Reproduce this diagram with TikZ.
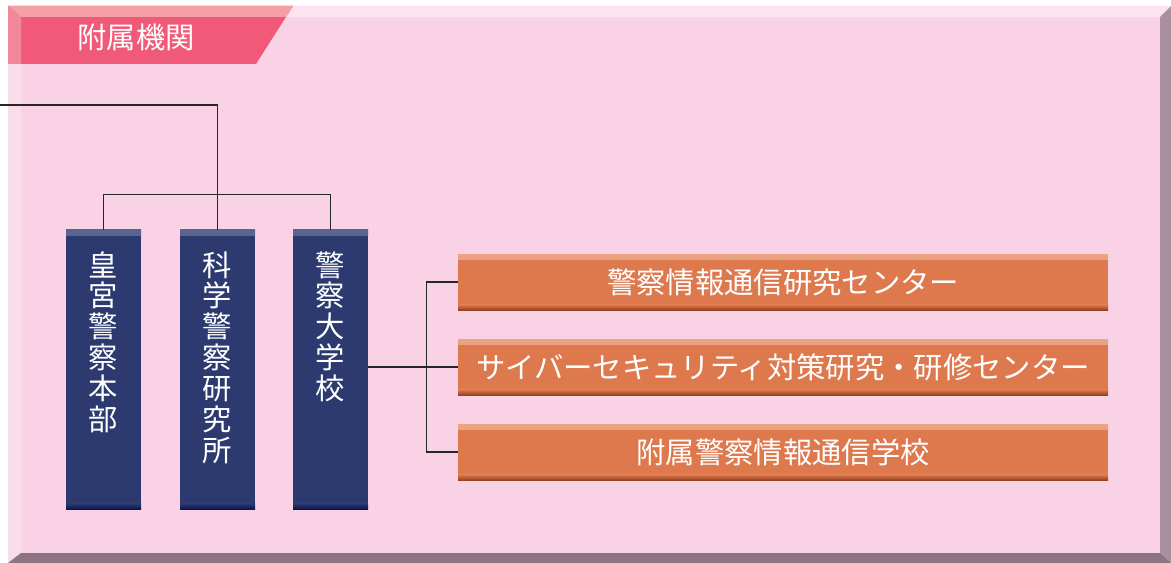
\documentclass[tikz,border=0pt]{standalone}
\usepackage{fontspec}
\setmainfont{Noto Sans CJK JP}
\usetikzlibrary{positioning}
\definecolor{panelface}{HTML}{F9D2E6}
\definecolor{paneltop}{HTML}{FBE4EF}
\definecolor{panelleft}{HTML}{FADDEB}
\definecolor{panelright}{HTML}{A8909F}
\definecolor{panelbottom}{HTML}{8C7482}
\definecolor{tabface}{HTML}{F05A78}
\definecolor{tabtop}{HTML}{F2A0A6}
\definecolor{tableft}{HTML}{F2899A}
\definecolor{navyface}{HTML}{2C3A6F}
\definecolor{navytop}{HTML}{5A6592}
\definecolor{navybottom}{HTML}{0C1547}
\definecolor{orangeface}{HTML}{DE794E}
\definecolor{orangetop}{HTML}{EBA584}
\definecolor{orangebottom}{HTML}{96421F}
\definecolor{orangeright}{HTML}{C25F3A}
\tikzset{
  bevelbox/.style n args={3}{draw=none, fill=#1, inner sep=0pt,
    path picture={
      \shade[top color=#2, bottom color=#1]
        (path picture bounding box.north west) rectangle ([yshift=-4pt]path picture bounding box.north east);
      \shade[top color=#1, bottom color=#3]
        ([yshift=4pt]path picture bounding box.south west) rectangle (path picture bounding box.south east);
    }},
  navybox/.style={bevelbox={navyface}{navytop}{navybottom},
    minimum width=56.25pt, minimum height=209.25pt},
  orangebox/.style={bevelbox={orangeface}{orangetop}{orangebottom},
    minimum width=487.5pt, minimum height=42pt, text=white,
    font=\fontsize{22}{26}\selectfont},
  vtext/.style={anchor=north, inner sep=0pt, text=white, align=center,
    font=\fontsize{22}{23.2}\selectfont},
  link/.style={draw=black!85, line width=1.1pt},
}
\begin{document}
\begin{tikzpicture}[x=0.75pt,y=-0.75pt]
\useasboundingbox (0,0) rectangle (1171,563);
\fill[white] (0,0) rectangle (1171,563);
% panel with bevel
\fill[panelface] (8,6) rectangle (1171,563);
\fill[paneltop] (8,6) -- (1171,6) -- (1160,17) -- (21,17) -- cycle;
\fill[panelleft] (8,6) -- (21,17) -- (21,553) -- (8,563) -- cycle;
\fill[panelright] (1171,6) -- (1160,17) -- (1160,553) -- (1171,563) -- cycle;
\fill[panelbottom] (8,563) -- (21,553) -- (1160,553) -- (1171,563) -- cycle;
% title tab
\fill[tabface] (8,6) -- (293,6) -- (256,64) -- (8,64) -- cycle;
\fill[tabtop] (8,6) -- (293,6) -- (286,17) -- (21,17) -- cycle;
\fill[tableft] (8,6) -- (21,17) -- (21,64) -- (8,64) -- cycle;
\node[text=white, font=\fontsize{22}{26}\selectfont] (title) at (136,37) {附属機関};
% navy boxes
\node[navybox, label={[vtext, yshift=-16pt]north:皇\\宮\\警\\察\\本\\部}] (b1) at (103.5,369.5) {};
\node[navybox, label={[vtext, yshift=-16pt]north:科\\学\\警\\察\\研\\究\\所}] (b2) at (217.5,369.5) {};
\node[navybox, label={[vtext, yshift=-16pt]north:警\\察\\大\\学\\校}] (b3) at (330.5,369.5) {};
% orange boxes
\node[orangebox] (o1) at (783,282) {警察情報通信研究センター};
\node[orangebox] (o2) at (783,367) {サイバーセキュリティ対策研究・研修センター};
\node[orangebox] (o3) at (783,452) {附属警察情報通信学校};
% connectors
\coordinate (ext) at (0,105);
\draw[link] (ext) -| (b2.north);
\draw[link] (b1.north) -- ++(0,-35) -| (b3.north);
\draw[link] (b3.east |- o2.west) -- (o2.west);
\draw[link] (o1.west) -- ++(-31,0) |- (o3.west);
\end{tikzpicture}
\end{document}
